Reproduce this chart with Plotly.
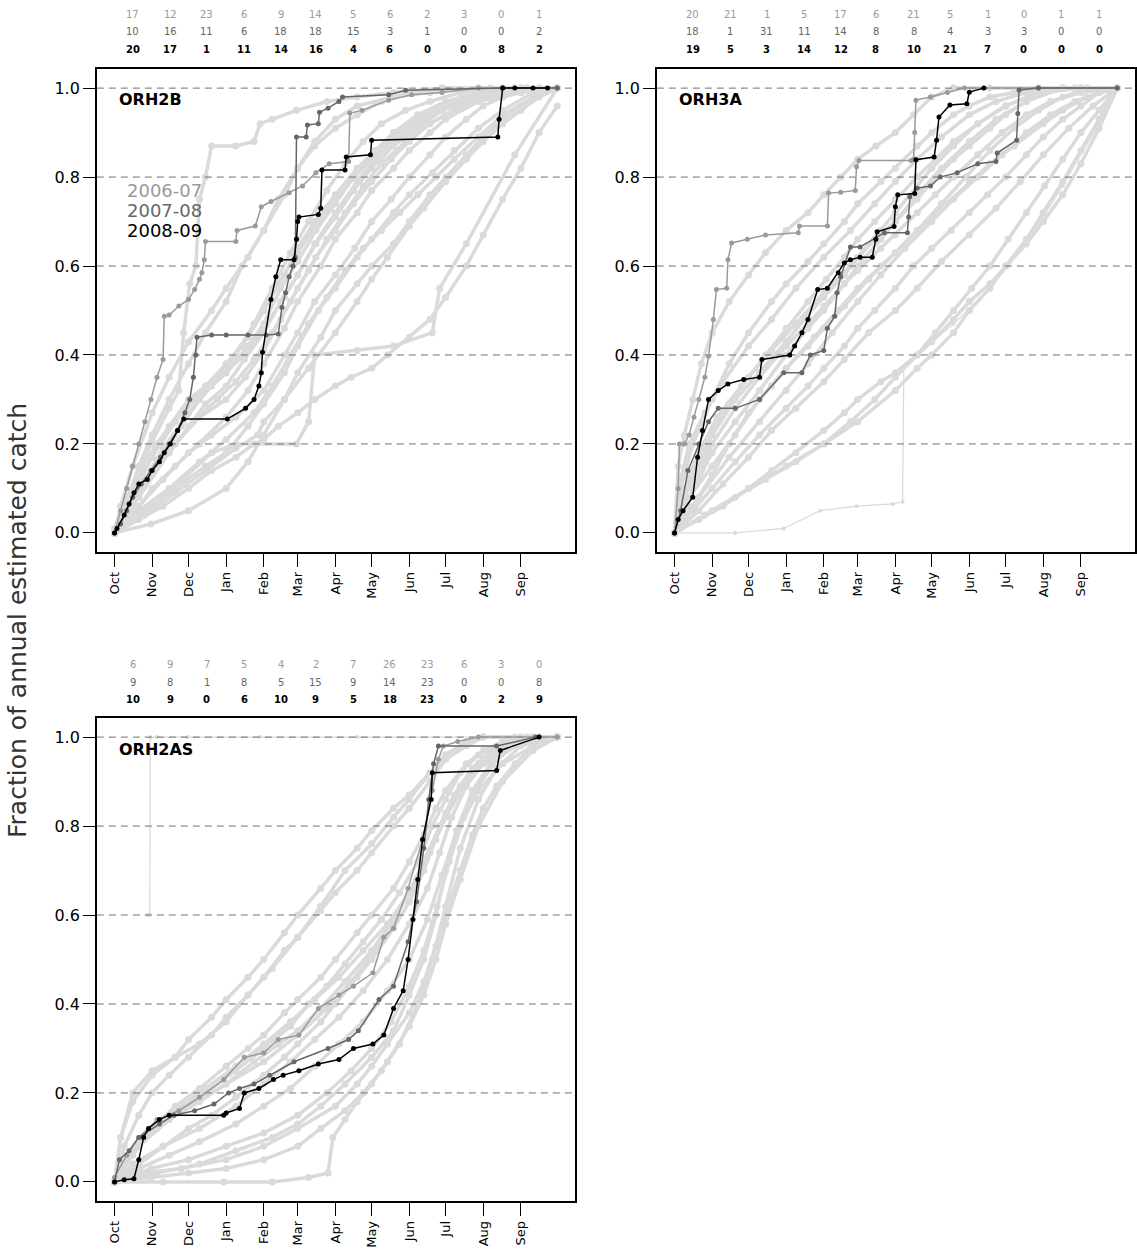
import plotly.graph_objects as go

# ---------------------------------------------------------------- data
MONTHS = ["Oct", "Nov", "Dec", "Jan", "Feb", "Mar", "Apr", "May", "Jun", "Jul", "Aug", "Sep"]
MONTH_START = [0, 31, 61, 92, 123, 151, 182, 212, 243, 273, 304, 335]
MONTH_MID = [15, 46, 76, 107, 137, 166, 197, 227, 258, 288, 319, 350]
Y_TICKS = [0.0, 0.2, 0.4, 0.6, 0.8, 1.0]
GRID_LEVELS = [0.2, 0.4, 0.6, 0.8, 1.0]
SEASONS = ["2006-07", "2007-08", "2008-09"]

# monthly trip counts per season (rows: 2006-07, 2007-08, 2008-09)
COUNTS_ORH2B = [
    [17, 12, 23, 6, 9, 14, 5, 6, 2, 3, 0, 1],
    [10, 16, 11, 6, 18, 18, 15, 3, 1, 0, 0, 2],
    [20, 17, 1, 11, 14, 16, 4, 6, 0, 0, 8, 2],
]
COUNTS_ORH3A = [
    [20, 21, 1, 5, 17, 6, 21, 5, 1, 0, 1, 1],
    [18, 1, 31, 11, 14, 8, 8, 4, 3, 3, 0, 0],
    [19, 5, 3, 14, 12, 8, 10, 21, 7, 0, 0, 0],
]
COUNTS_ORH2AS = [
    [6, 9, 7, 5, 4, 2, 7, 26, 23, 6, 3, 0],
    [9, 8, 1, 8, 5, 15, 9, 14, 23, 0, 0, 8],
    [10, 9, 0, 6, 10, 9, 5, 18, 23, 0, 2, 9],
]

# ---- ORH2B: earlier seasons (day of fishing year, cumulative fraction)
ORH2B_PAST = [
    ([0, 8, 18, 30, 45, 53, 57, 62, 67, 70, 75, 80, 100, 115, 120, 130, 150, 175, 200, 230, 270, 320, 365],
     [0, 0.05, 0.12, 0.2, 0.28, 0.32, 0.45, 0.56, 0.6, 0.75, 0.8, 0.87, 0.87, 0.88, 0.92, 0.93, 0.95, 0.97, 0.98, 0.99, 1, 1, 1]),
    ([0, 10, 20, 31, 45, 61, 75, 92, 105, 123, 135, 151, 165, 182, 200, 220, 243, 270, 300, 335, 365],
     [0, 0.07, 0.15, 0.22, 0.3, 0.38, 0.45, 0.52, 0.6, 0.68, 0.75, 0.82, 0.87, 0.91, 0.94, 0.97, 0.99, 1, 1, 1, 1]),
    ([0, 12, 25, 40, 55, 70, 85, 100, 115, 130, 145, 160, 175, 190, 205, 220, 240, 260, 285, 310, 340, 365],
     [0, 0.05, 0.11, 0.17, 0.24, 0.3, 0.35, 0.4, 0.47, 0.55, 0.63, 0.7, 0.77, 0.83, 0.88, 0.92, 0.95, 0.97, 0.99, 1, 1, 1]),
    ([0, 15, 31, 50, 70, 92, 110, 123, 140, 151, 170, 182, 200, 212, 230, 243, 260, 273, 300, 335, 365],
     [0, 0.04, 0.1, 0.15, 0.2, 0.26, 0.32, 0.38, 0.46, 0.52, 0.6, 0.66, 0.72, 0.77, 0.82, 0.86, 0.9, 0.93, 0.97, 0.99, 1]),
    ([0, 20, 40, 61, 80, 100, 115, 123, 135, 151, 165, 182, 195, 212, 225, 243, 260, 273, 290, 304, 320, 335, 350, 365],
     [0, 0.03, 0.06, 0.1, 0.14, 0.17, 0.2, 0.21, 0.24, 0.27, 0.3, 0.33, 0.35, 0.37, 0.4, 0.44, 0.48, 0.53, 0.6, 0.67, 0.75, 0.82, 0.9, 0.96]),
    ([0, 10, 25, 45, 61, 80, 92, 105, 123, 140, 151, 165, 182, 200, 215, 230, 250, 270, 290, 320, 350, 365],
     [0.01, 0.08, 0.16, 0.24, 0.3, 0.34, 0.37, 0.42, 0.5, 0.58, 0.64, 0.7, 0.76, 0.82, 0.86, 0.9, 0.93, 0.96, 0.98, 1, 1, 1]),
    ([0, 20, 40, 61, 80, 100, 123, 140, 151, 165, 182, 198, 212, 228, 243, 260, 273, 290, 304, 320, 335, 365],
     [0, 0.06, 0.12, 0.18, 0.22, 0.26, 0.32, 0.4, 0.45, 0.52, 0.58, 0.64, 0.7, 0.75, 0.8, 0.85, 0.89, 0.93, 0.96, 0.98, 0.99, 1]),
    ([0, 15, 35, 55, 75, 92, 110, 123, 135, 151, 168, 182, 198, 212, 230, 250, 273, 300, 330, 365],
     [0, 0.1, 0.2, 0.27, 0.33, 0.38, 0.44, 0.5, 0.56, 0.63, 0.7, 0.75, 0.8, 0.84, 0.89, 0.93, 0.96, 0.98, 1, 1]),
    ([0, 25, 50, 75, 100, 118, 123, 140, 160, 182, 200, 212, 225, 243, 255, 273, 290, 304, 320, 335, 350, 365],
     [0, 0.04, 0.09, 0.14, 0.19, 0.22, 0.25, 0.3, 0.37, 0.45, 0.52, 0.57, 0.62, 0.69, 0.73, 0.79, 0.84, 0.88, 0.92, 0.95, 0.98, 1]),
    ([0, 40, 80, 100, 150, 160, 165, 200, 230, 262, 268, 290, 330, 365],
     [0, 0.08, 0.18, 0.2, 0.2, 0.25, 0.4, 0.41, 0.42, 0.45, 0.55, 0.65, 0.85, 1]),
    ([0, 8, 20, 31, 45, 61, 75, 92, 107, 123, 137, 151, 166, 182, 197, 212, 230, 250, 270, 300, 330, 365],
     [0, 0.04, 0.09, 0.13, 0.18, 0.24, 0.29, 0.33, 0.39, 0.45, 0.52, 0.58, 0.65, 0.71, 0.77, 0.82, 0.87, 0.91, 0.95, 0.98, 1, 1]),
    ([0, 30, 61, 92, 110, 123, 140, 151, 170, 182, 200, 212, 230, 243, 260, 273, 290, 304, 320, 335, 365],
     [0, 0.02, 0.05, 0.1, 0.16, 0.22, 0.3, 0.36, 0.44, 0.5, 0.56, 0.6, 0.65, 0.7, 0.76, 0.8, 0.85, 0.89, 0.93, 0.96, 1]),
    ([0, 5, 15, 31, 45, 61, 80, 92, 110, 123, 140, 151, 165, 182, 200, 230, 260, 300, 365],
     [0, 0.06, 0.15, 0.27, 0.35, 0.43, 0.5, 0.55, 0.62, 0.68, 0.76, 0.82, 0.88, 0.93, 0.96, 0.98, 0.99, 1, 1]),
    ([0, 20, 45, 70, 92, 115, 130, 145, 160, 175, 190, 205, 220, 235, 250, 265, 280, 300, 320, 345, 365],
     [0, 0.05, 0.1, 0.16, 0.21, 0.27, 0.33, 0.4, 0.47, 0.53, 0.59, 0.64, 0.68, 0.72, 0.76, 0.8, 0.84, 0.89, 0.94, 0.98, 1]),
    ([0, 10, 25, 40, 61, 80, 92, 110, 123, 137, 151, 166, 182, 197, 212, 230, 250, 273, 300, 335, 365],
     [0, 0.05, 0.12, 0.19, 0.27, 0.33, 0.36, 0.42, 0.47, 0.55, 0.61, 0.68, 0.74, 0.8, 0.85, 0.9, 0.94, 0.97, 0.99, 1, 1]),
    ([0, 15, 31, 50, 70, 92, 108, 123, 137, 151, 166, 182, 197, 212, 228, 243, 260, 280, 304, 335, 365],
     [0, 0.06, 0.13, 0.2, 0.26, 0.3, 0.35, 0.41, 0.48, 0.55, 0.62, 0.68, 0.74, 0.79, 0.84, 0.88, 0.92, 0.95, 0.98, 1, 1]),
    ([0, 12, 31, 50, 70, 92, 110, 123, 140, 151, 165, 182, 200, 215, 230, 250, 270, 290, 320, 350, 365],
     [0, 0.07, 0.17, 0.25, 0.31, 0.36, 0.41, 0.46, 0.53, 0.58, 0.65, 0.72, 0.79, 0.84, 0.88, 0.92, 0.95, 0.97, 0.99, 1, 1]),
    ([0, 25, 50, 75, 92, 110, 123, 140, 151, 168, 182, 200, 212, 230, 243, 262, 280, 300, 320, 345, 365],
     [0, 0.05, 0.1, 0.15, 0.18, 0.24, 0.29, 0.36, 0.42, 0.5, 0.55, 0.62, 0.66, 0.72, 0.76, 0.81, 0.86, 0.91, 0.95, 0.99, 1]),
    ([0, 20, 45, 65, 85, 100, 115, 130, 145, 160, 175, 190, 205, 220, 240, 260, 285, 310, 340, 365],
     [0, 0.08, 0.18, 0.25, 0.3, 0.34, 0.39, 0.45, 0.52, 0.59, 0.66, 0.72, 0.78, 0.83, 0.88, 0.92, 0.96, 0.98, 1, 1]),
]
ORH2B_0607 = ([0, 5, 10, 15, 20, 25, 30, 35, 40, 41, 45, 53, 61, 66, 70, 72, 74, 75, 100, 101, 116, 121, 129, 144, 155, 166, 177, 193, 194, 204, 226, 245, 270, 300, 365],
              [0, 0.05, 0.1, 0.15, 0.2, 0.25, 0.3, 0.35, 0.39, 0.487, 0.49, 0.51, 0.525, 0.547, 0.57, 0.585, 0.614, 0.655, 0.655, 0.68, 0.69, 0.733, 0.745, 0.765, 0.78, 0.81, 0.83, 0.835, 0.944, 0.95, 0.973, 0.985, 0.99, 1.0, 1.0])
ORH2B_0708 = ([0, 5, 10, 15, 22, 30, 38, 45, 52, 58, 62, 65, 67, 68, 80, 92, 110, 125, 135, 138, 141, 144, 147, 149, 150, 158, 159, 168, 169, 176, 185, 188, 226, 240, 320, 365],
              [0, 0.02, 0.05, 0.08, 0.11, 0.14, 0.17, 0.2, 0.23, 0.27, 0.3, 0.35, 0.4, 0.44, 0.445, 0.445, 0.445, 0.445, 0.447, 0.507, 0.54, 0.576, 0.6, 0.62, 0.89, 0.89, 0.917, 0.92, 0.946, 0.955, 0.97, 0.98, 0.985, 0.995, 1.0, 1.0])
ORH2B_0809 = ([0, 2, 8, 12, 16, 20, 27, 31, 37, 41, 46, 52, 57, 93, 108, 115, 119, 121, 122, 129, 133, 137, 148, 150, 151, 152, 168, 170, 171, 190, 191, 211, 212, 316, 317, 320, 330, 345, 357],
              [0, 0.01, 0.04, 0.065, 0.09, 0.11, 0.12, 0.14, 0.16, 0.18, 0.2, 0.23, 0.256, 0.256, 0.28, 0.3, 0.33, 0.36, 0.406, 0.525, 0.576, 0.614, 0.614, 0.66, 0.7, 0.71, 0.716, 0.73, 0.816, 0.816, 0.845, 0.85, 0.883, 0.89, 0.93, 1.0, 1.0, 1.0, 1.0])

# ---- ORH3A
ORH3A_PAST = [
    ([0, 3, 8, 15, 22, 31, 45, 61, 75, 92, 110, 123, 137, 151, 166, 182, 197, 212, 230, 260, 300, 365],
     [0, 0.15, 0.22, 0.3, 0.38, 0.45, 0.52, 0.58, 0.63, 0.68, 0.72, 0.76, 0.8, 0.84, 0.87, 0.9, 0.94, 0.98, 1, 1, 1, 1]),
    ([0, 5, 15, 31, 45, 61, 80, 92, 110, 123, 140, 151, 170, 182, 200, 212, 230, 243, 260, 280, 300, 335, 365],
     [0, 0.1, 0.2, 0.3, 0.38, 0.45, 0.52, 0.56, 0.61, 0.65, 0.7, 0.74, 0.79, 0.82, 0.87, 0.9, 0.94, 0.96, 0.98, 0.99, 1, 1, 1]),
    ([0, 10, 20, 31, 50, 70, 92, 110, 123, 140, 151, 170, 182, 200, 212, 230, 243, 260, 273, 290, 304, 335, 365],
     [0, 0.06, 0.12, 0.18, 0.25, 0.32, 0.4, 0.46, 0.5, 0.56, 0.6, 0.66, 0.7, 0.75, 0.79, 0.84, 0.87, 0.91, 0.94, 0.97, 0.99, 1, 1]),
    ([0, 15, 31, 50, 70, 92, 110, 123, 140, 151, 165, 182, 197, 212, 228, 243, 258, 273, 290, 304, 320, 335, 350, 365],
     [0, 0.05, 0.1, 0.16, 0.22, 0.28, 0.33, 0.37, 0.42, 0.46, 0.5, 0.55, 0.6, 0.64, 0.68, 0.72, 0.76, 0.8, 0.85, 0.89, 0.93, 0.96, 0.99, 1]),
    ([0, 20, 40, 61, 80, 100, 123, 140, 151, 170, 182, 200, 212, 230, 243, 260, 273, 290, 304, 320, 335, 350, 365],
     [0, 0.03, 0.06, 0.1, 0.14, 0.18, 0.23, 0.27, 0.3, 0.34, 0.36, 0.4, 0.43, 0.48, 0.52, 0.56, 0.6, 0.65, 0.7, 0.76, 0.83, 0.91, 1]),
    ([0, 12, 31, 50, 70, 92, 115, 135, 151, 170, 182, 200, 220, 243, 260, 280, 304, 320, 340, 365],
     [0, 0.08, 0.15, 0.22, 0.3, 0.37, 0.44, 0.5, 0.55, 0.6, 0.63, 0.68, 0.73, 0.79, 0.83, 0.87, 0.92, 0.95, 0.98, 1]),
    ([0, 8, 20, 35, 55, 75, 92, 110, 125, 140, 151, 165, 182, 200, 215, 230, 250, 273, 300, 330, 365],
     [0, 0.1, 0.18, 0.26, 0.33, 0.4, 0.46, 0.52, 0.57, 0.62, 0.66, 0.7, 0.75, 0.8, 0.84, 0.88, 0.92, 0.96, 0.99, 1, 1]),
    ([0, 31, 61, 92, 123, 151, 182, 200, 212, 230, 243, 260, 273, 290, 304, 320, 335, 350, 365],
     [0, 0.05, 0.1, 0.15, 0.2, 0.25, 0.32, 0.37, 0.4, 0.45, 0.5, 0.55, 0.6, 0.66, 0.72, 0.79, 0.86, 0.93, 1]),
    ([0, 20, 45, 70, 92, 110, 130, 151, 170, 190, 212, 230, 250, 270, 290, 310, 330, 350, 365],
     [0, 0.08, 0.17, 0.25, 0.32, 0.38, 0.45, 0.52, 0.58, 0.64, 0.7, 0.75, 0.8, 0.85, 0.9, 0.94, 0.97, 0.99, 1]),
    ([0, 5, 12, 25, 40, 61, 80, 100, 123, 145, 165, 182, 200, 220, 243, 265, 290, 320, 365],
     [0, 0.12, 0.2, 0.27, 0.34, 0.42, 0.48, 0.55, 0.62, 0.68, 0.74, 0.79, 0.84, 0.89, 0.94, 0.97, 0.99, 1, 1]),
    ([0, 25, 50, 75, 100, 123, 145, 165, 182, 200, 215, 230, 245, 260, 275, 290, 305, 320, 335, 350, 365],
     [0, 0.04, 0.08, 0.12, 0.16, 0.2, 0.25, 0.3, 0.35, 0.4, 0.45, 0.5, 0.55, 0.6, 0.66, 0.72, 0.78, 0.84, 0.9, 0.95, 1]),
    ([0, 15, 31, 45, 61, 80, 92, 110, 123, 140, 160, 182, 200, 220, 240, 260, 280, 300, 320, 340, 365],
     [0, 0.06, 0.13, 0.2, 0.27, 0.33, 0.37, 0.42, 0.46, 0.51, 0.57, 0.63, 0.68, 0.74, 0.8, 0.86, 0.91, 0.95, 0.98, 1, 1]),
    ([0, 8, 20, 31, 50, 70, 92, 110, 123, 140, 151, 170, 182, 200, 212, 230, 250, 273, 300, 335, 365],
     [0, 0.08, 0.15, 0.22, 0.3, 0.36, 0.43, 0.49, 0.53, 0.58, 0.62, 0.68, 0.72, 0.78, 0.82, 0.87, 0.92, 0.96, 0.99, 1, 1]),
    ([0, 15, 31, 50, 70, 92, 110, 123, 140, 151, 170, 182, 200, 215, 230, 250, 270, 290, 310, 335, 365],
     [0, 0.1, 0.2, 0.28, 0.35, 0.42, 0.47, 0.51, 0.56, 0.59, 0.64, 0.67, 0.72, 0.76, 0.8, 0.85, 0.9, 0.94, 0.97, 0.99, 1]),
    ([0, 20, 40, 61, 80, 100, 123, 140, 160, 182, 200, 220, 243, 265, 285, 304, 325, 345, 365],
     [0, 0.05, 0.11, 0.17, 0.23, 0.28, 0.34, 0.39, 0.45, 0.5, 0.55, 0.61, 0.67, 0.73, 0.79, 0.85, 0.91, 0.96, 1]),
    ([0, 5, 15, 31, 45, 61, 80, 100, 123, 145, 165, 182, 200, 220, 243, 265, 290, 320, 365],
     [0, 0.07, 0.14, 0.23, 0.29, 0.35, 0.41, 0.47, 0.54, 0.6, 0.66, 0.7, 0.76, 0.82, 0.88, 0.93, 0.97, 1, 1]),
]
# a season with almost nothing landed until a single large April catch
ORH3A_SPARSE = ([0, 50, 90, 120, 150, 180, 188, 189, 200, 230, 260, 290, 320, 350, 365],
                [0, 0.0, 0.01, 0.05, 0.06, 0.065, 0.07, 0.37, 0.4, 0.47, 0.55, 0.65, 0.78, 0.92, 1.0])
ORH3A_0607 = ([0, 3, 4, 8, 12, 16, 20, 25, 28, 32, 34.5, 43, 44, 47, 60, 75, 102, 103, 126, 127, 137, 149, 150, 152, 195, 197, 198, 199, 211, 225, 239, 300, 365],
              [0, 0.1, 0.2, 0.2, 0.22, 0.26, 0.3, 0.35, 0.397, 0.48, 0.547, 0.55, 0.614, 0.652, 0.66, 0.67, 0.675, 0.69, 0.69, 0.764, 0.766, 0.77, 0.823, 0.837, 0.837, 0.84, 0.9, 0.973, 0.98, 0.99, 1.0, 1.0, 1.0])
ORH3A_0708 = ([0, 5, 11, 20, 28, 36, 50, 70, 90, 105, 112, 123, 126, 132, 134, 137, 145, 153, 173, 192, 193, 194, 200, 211, 219, 233, 250, 265, 266, 282, 283, 284, 300, 365],
              [0, 0.05, 0.14, 0.2, 0.25, 0.28, 0.28, 0.3, 0.36, 0.36, 0.4, 0.41, 0.46, 0.487, 0.54, 0.576, 0.643, 0.643, 0.675, 0.675, 0.71, 0.756, 0.775, 0.78, 0.8, 0.81, 0.83, 0.835, 0.854, 0.883, 0.943, 0.996, 1.0, 1.0])
ORH3A_0809 = ([0, 3, 7, 15, 19, 23, 28, 36, 44, 57, 70, 72, 95, 99, 105, 110, 118, 126, 135, 140, 145, 153, 163, 166, 167, 181, 182, 184, 198, 199, 214, 216, 218, 227, 241, 243, 255],
              [0, 0.03, 0.05, 0.08, 0.17, 0.23, 0.3, 0.32, 0.335, 0.345, 0.35, 0.39, 0.4, 0.42, 0.45, 0.48, 0.547, 0.55, 0.585, 0.607, 0.614, 0.62, 0.62, 0.66, 0.677, 0.689, 0.733, 0.76, 0.763, 0.839, 0.845, 0.883, 0.935, 0.962, 0.965, 0.991, 1.0])

# ---- ORH2AS
ORH2AS_PAST = [
    ([0, 8, 20, 31, 45, 61, 80, 92, 110, 123, 140, 151, 170, 182, 200, 212, 230, 243, 260, 273, 290, 304, 330, 365],
     [0, 0.08, 0.15, 0.2, 0.24, 0.28, 0.33, 0.37, 0.42, 0.46, 0.52, 0.55, 0.61, 0.65, 0.7, 0.74, 0.8, 0.84, 0.9, 0.95, 0.98, 1, 1, 1]),
    ([0, 5, 15, 31, 50, 61, 80, 92, 110, 123, 140, 151, 170, 182, 200, 212, 230, 243, 260, 273, 290, 304, 365],
     [0, 0.1, 0.18, 0.24, 0.28, 0.32, 0.37, 0.41, 0.46, 0.5, 0.56, 0.6, 0.66, 0.7, 0.75, 0.79, 0.84, 0.87, 0.92, 0.96, 0.99, 1, 1]),
    ([0, 15, 31, 50, 70, 92, 110, 123, 140, 151, 170, 182, 200, 212, 230, 243, 255, 265, 273, 290, 304, 320, 340, 365],
     [0, 0.06, 0.12, 0.17, 0.21, 0.26, 0.3, 0.33, 0.38, 0.41, 0.46, 0.5, 0.56, 0.6, 0.66, 0.72, 0.78, 0.84, 0.88, 0.94, 0.97, 0.99, 1, 1]),
    ([0, 20, 40, 61, 80, 100, 123, 140, 151, 170, 182, 200, 212, 230, 243, 255, 265, 273, 285, 300, 320, 345, 365],
     [0, 0.04, 0.08, 0.12, 0.15, 0.19, 0.24, 0.28, 0.31, 0.36, 0.4, 0.46, 0.5, 0.57, 0.63, 0.7, 0.77, 0.83, 0.89, 0.94, 0.97, 0.99, 1]),
    ([0, 40, 90, 130, 160, 176, 180, 190, 200, 212, 225, 243, 255, 265, 273, 285, 300, 320, 345, 365],
     [0, 0, 0, 0, 0.01, 0.02, 0.1, 0.14, 0.18, 0.22, 0.27, 0.35, 0.42, 0.5, 0.58, 0.68, 0.8, 0.9, 0.97, 1]),
    ([0, 25, 55, 92, 123, 151, 182, 200, 212, 225, 243, 255, 265, 273, 285, 295, 304, 315, 330, 345, 365],
     [0, 0.02, 0.03, 0.05, 0.08, 0.12, 0.17, 0.22, 0.26, 0.31, 0.38, 0.45, 0.53, 0.6, 0.7, 0.78, 0.84, 0.89, 0.94, 0.98, 1]),
    ([0, 10, 31, 50, 75, 100, 123, 145, 165, 185, 205, 225, 243, 260, 273, 290, 304, 320, 345, 365],
     [0, 0.06, 0.12, 0.16, 0.21, 0.26, 0.31, 0.36, 0.41, 0.46, 0.52, 0.58, 0.65, 0.74, 0.82, 0.9, 0.95, 0.98, 1, 1]),
    ([0, 35, 70, 100, 130, 151, 170, 190, 212, 230, 243, 255, 265, 273, 285, 300, 320, 345, 365],
     [0, 0.02, 0.04, 0.07, 0.1, 0.13, 0.17, 0.22, 0.28, 0.34, 0.42, 0.5, 0.6, 0.7, 0.8, 0.88, 0.94, 0.98, 1]),
    ([0, 15, 40, 70, 100, 123, 145, 165, 185, 205, 225, 243, 258, 268, 278, 290, 304, 320, 345, 365],
     [0, 0.04, 0.08, 0.12, 0.17, 0.22, 0.27, 0.32, 0.37, 0.43, 0.5, 0.58, 0.66, 0.74, 0.82, 0.89, 0.94, 0.97, 0.99, 1]),
    ([0, 5, 15, 31, 50, 70, 92, 110, 130, 151, 170, 190, 212, 230, 243, 260, 273, 290, 304, 335, 365],
     [0, 0.1, 0.2, 0.25, 0.28, 0.31, 0.36, 0.42, 0.48, 0.55, 0.62, 0.7, 0.76, 0.82, 0.86, 0.92, 0.96, 0.99, 1, 1, 1]),
    ([0, 30, 61, 92, 123, 151, 170, 190, 205, 220, 235, 250, 262, 273, 285, 300, 315, 335, 365],
     [0, 0.01, 0.02, 0.03, 0.05, 0.08, 0.12, 0.16, 0.2, 0.25, 0.31, 0.4, 0.5, 0.62, 0.75, 0.86, 0.93, 0.98, 1]),
    ([0, 20, 45, 75, 100, 123, 145, 160, 175, 190, 205, 220, 235, 250, 262, 273, 285, 300, 320, 345, 365],
     [0, 0.08, 0.14, 0.2, 0.25, 0.3, 0.35, 0.4, 0.44, 0.49, 0.54, 0.59, 0.65, 0.72, 0.8, 0.86, 0.92, 0.96, 0.99, 1, 1]),
    ([0, 10, 25, 45, 70, 92, 115, 135, 151, 170, 190, 212, 230, 243, 255, 268, 280, 295, 310, 330, 365],
     [0, 0.05, 0.1, 0.14, 0.18, 0.22, 0.27, 0.31, 0.34, 0.39, 0.45, 0.52, 0.59, 0.65, 0.72, 0.8, 0.87, 0.93, 0.97, 0.99, 1]),
    ([0, 20, 45, 70, 100, 123, 145, 165, 185, 205, 225, 243, 258, 270, 282, 295, 310, 330, 350, 365],
     [0, 0.03, 0.06, 0.09, 0.13, 0.17, 0.21, 0.26, 0.31, 0.36, 0.43, 0.5, 0.59, 0.69, 0.79, 0.88, 0.94, 0.98, 1, 1]),
    ([0, 15, 35, 61, 92, 123, 151, 175, 195, 212, 228, 243, 255, 268, 280, 295, 310, 330, 350, 365],
     [0, 0.07, 0.12, 0.17, 0.22, 0.27, 0.33, 0.39, 0.45, 0.51, 0.58, 0.65, 0.72, 0.8, 0.87, 0.93, 0.97, 0.99, 1, 1]),
    ([0, 30, 61, 92, 123, 151, 175, 195, 212, 228, 243, 255, 266, 276, 288, 300, 315, 335, 365],
     [0, 0.03, 0.05, 0.08, 0.11, 0.15, 0.2, 0.25, 0.3, 0.36, 0.44, 0.52, 0.62, 0.72, 0.82, 0.89, 0.95, 0.99, 1]),
]
# a season whose whole catch came from one early trip
ORH2AS_SPARSE = ([27, 29, 29.5, 35, 60, 120, 200, 300, 365],
                 [0.6, 0.6, 1.0, 1.0, 1.0, 1.0, 1.0, 1.0, 1.0])
ORH2AS_0607 = ([0, 10, 20, 35, 53, 70, 90, 107, 123, 135, 152, 168, 185, 197, 213, 222, 230, 242, 254, 262, 267, 271, 283, 300, 365],
               [0.01, 0.06, 0.1, 0.14, 0.16, 0.19, 0.23, 0.28, 0.29, 0.32, 0.33, 0.39, 0.42, 0.44, 0.47, 0.55, 0.57, 0.66, 0.77, 0.88, 0.95, 0.98, 0.99, 1.0, 1.0])
ORH2AS_0708 = ([0, 4, 12, 20, 37, 49, 66, 82, 94, 103, 115, 128, 148, 176, 193, 201, 218, 230, 242, 249, 255, 259, 263, 267, 315, 347],
               [0, 0.05, 0.07, 0.1, 0.13, 0.15, 0.16, 0.175, 0.2, 0.21, 0.22, 0.24, 0.27, 0.3, 0.32, 0.34, 0.41, 0.44, 0.54, 0.63, 0.75, 0.86, 0.94, 0.98, 0.98, 1.0])
ORH2AS_0809 = ([0, 8, 16, 20, 24, 28, 37, 45, 90, 92, 103, 107, 119, 131, 139, 152, 168, 185, 197, 213, 222, 230, 238, 242, 246, 250, 254, 261, 262, 315, 318, 350],
               [0, 0.005, 0.007, 0.05, 0.1, 0.12, 0.14, 0.15, 0.15, 0.155, 0.165, 0.2, 0.21, 0.23, 0.24, 0.25, 0.265, 0.275, 0.3, 0.31, 0.33, 0.39, 0.43, 0.5, 0.59, 0.68, 0.77, 0.86, 0.92, 0.925, 0.97, 1.0])

# ---------------------------------------------------------------- styling
W, H = 1137, 1256
X_RANGE = [-14.6, 379.6]
Y_RANGE = [-0.043, 1.043]
BG_COL = "#dadada"
SEASON_COL = ["#9a9a9a", "#666666", "#000000"]
FONT = "DejaVu Sans"


def px_x(a, b):
    return [a / W, b / W]


def px_y(top, bottom):
    return [1 - bottom / H, 1 - top / H]


PANELS = [
    # name, x-domain (px), y-domain (px), past, sparse past, three seasons, counts, count-row pixel y
    ("ORH2B", (97, 576), (69, 552), ORH2B_PAST, None,
     [ORH2B_0607, ORH2B_0708, ORH2B_0809], COUNTS_ORH2B, (14, 32, 49)),
    ("ORH3A", (658, 1137), (69, 552), ORH3A_PAST, ORH3A_SPARSE,
     [ORH3A_0607, ORH3A_0708, ORH3A_0809], COUNTS_ORH3A, (14, 32, 49)),
    ("ORH2AS", (97, 576), (718, 1201), ORH2AS_PAST, ORH2AS_SPARSE,
     [ORH2AS_0607, ORH2AS_0708, ORH2AS_0809], COUNTS_ORH2AS, (664, 682, 699)),
]

fig = go.Figure()
layout = dict(
    width=W, height=H, margin=dict(l=0, r=0, t=0, b=0),
    paper_bgcolor="white", plot_bgcolor="white", showlegend=False,
    font=dict(family=FONT, color="black"),
)
annotations = []

for i, (name, xd, yd, past, sparse, seasons, counts, rows) in enumerate(PANELS):
    n = i + 1
    xa = "x" if n == 1 else f"x{n}"
    ya = "y" if n == 1 else f"y{n}"
    top_axis_num = n + 3
    xkey = "xaxis" if n == 1 else f"xaxis{n}"
    ykey = "yaxis" if n == 1 else f"yaxis{n}"

    layout[xkey] = dict(
        domain=px_x(*xd), range=X_RANGE, anchor=ya,
        tickmode="array", tickvals=MONTH_START, ticktext=MONTHS, tickangle=-90,
        ticks="outside", ticklen=13, tickwidth=1.3, tickcolor="black",
        tickfont=dict(family=FONT, size=13, color="black"),
        showline=True, linecolor="black", linewidth=1.5, mirror=True,
        showgrid=False, zeroline=False,
    )
    layout[ykey] = dict(
        domain=px_y(*yd), range=Y_RANGE, anchor=xa,
        tickmode="array", tickvals=Y_TICKS, ticktext=[f"{v:.1f}" for v in Y_TICKS],
        ticks="outside", ticklen=12, tickwidth=1.3, tickcolor="black",
        tickfont=dict(family=FONT, size=16, color="black"),
        showline=True, linecolor="black", linewidth=1.5, mirror=True,
        showgrid=False, zeroline=False,
    )
    # short month ticks along the top edge
    layout[f"xaxis{top_axis_num}"] = dict(
        domain=px_x(*xd), range=X_RANGE, overlaying=xa, anchor=ya, side="top",
        tickmode="array", tickvals=MONTH_START, ticks="outside", ticklen=3,
        tickwidth=1.3, tickcolor="black", showticklabels=False,
        showline=False, showgrid=False, zeroline=False,
    )

    # earlier seasons in light grey
    if sparse is not None:
        fig.add_trace(go.Scatter(
            x=sparse[0], y=sparse[1], xaxis=xa, yaxis=ya, mode="lines+markers",
            line=dict(color=BG_COL, width=1.2), marker=dict(color=BG_COL, size=4),
            hoverinfo="skip",
        ))
    for days, frac in past:
        fig.add_trace(go.Scatter(
            x=days, y=frac, xaxis=xa, yaxis=ya, mode="lines+markers",
            line=dict(color=BG_COL, width=3.5), marker=dict(color=BG_COL, size=7),
            hoverinfo="skip",
        ))

    # dashed reference levels
    gx, gy = [], []
    for lvl in GRID_LEVELS:
        gx += [X_RANGE[0], X_RANGE[1], None]
        gy += [lvl, lvl, None]
    fig.add_trace(go.Scatter(
        x=gx, y=gy, xaxis=xa, yaxis=ya, mode="lines",
        line=dict(color="#707070", width=1, dash="7px,5px"), hoverinfo="skip",
    ))

    # the three most recent seasons
    for (days, frac), col, lab in zip(seasons, SEASON_COL, SEASONS):
        fig.add_trace(go.Scatter(
            x=days, y=frac, xaxis=xa, yaxis=ya, mode="lines+markers", name=lab,
            line=dict(color=col, width=1.5), marker=dict(color=col, size=5),
        ))

    # monthly counts above each panel
    for row, (vals, col) in enumerate(zip(counts, SEASON_COL)):
        for d, v in zip(MONTH_MID, vals):
            txt = f"<b>{v}</b>" if row == 2 else str(v)
            annotations.append(dict(
                x=d, y=1 - rows[row] / H, xref=xa, yref="paper", text=txt,
                showarrow=False, font=dict(family=FONT, size=10, color=col),
                xanchor="center", yanchor="middle",
            ))

    # panel label
    annotations.append(dict(
        x=(xd[0] + 20) / W, y=1 - (yd[0] + 31) / H, xref="paper", yref="paper",
        text=f"<b>{name}</b>", showarrow=False, xanchor="left", yanchor="middle",
        font=dict(family=FONT, size=16, color="black"),
    ))

# season key in the first panel
for k, (lab, col) in enumerate(zip(SEASONS, SEASON_COL)):
    annotations.append(dict(
        x=125 / W, y=1 - (190 + 20 * k) / H, xref="paper", yref="paper",
        text=lab, showarrow=False, xanchor="left", yanchor="middle",
        font=dict(family=FONT, size=18, color=col),
    ))

# shared y-axis title
annotations.append(dict(
    x=17 / W, y=1 - 620 / H, xref="paper", yref="paper",
    text="Fraction of annual estimated catch", textangle=-90, showarrow=False,
    xanchor="center", yanchor="middle",
    font=dict(family=FONT, size=25, color="#333333"),
))

layout["annotations"] = annotations
fig.update_layout(**layout)
fig.write_html("out.html")
